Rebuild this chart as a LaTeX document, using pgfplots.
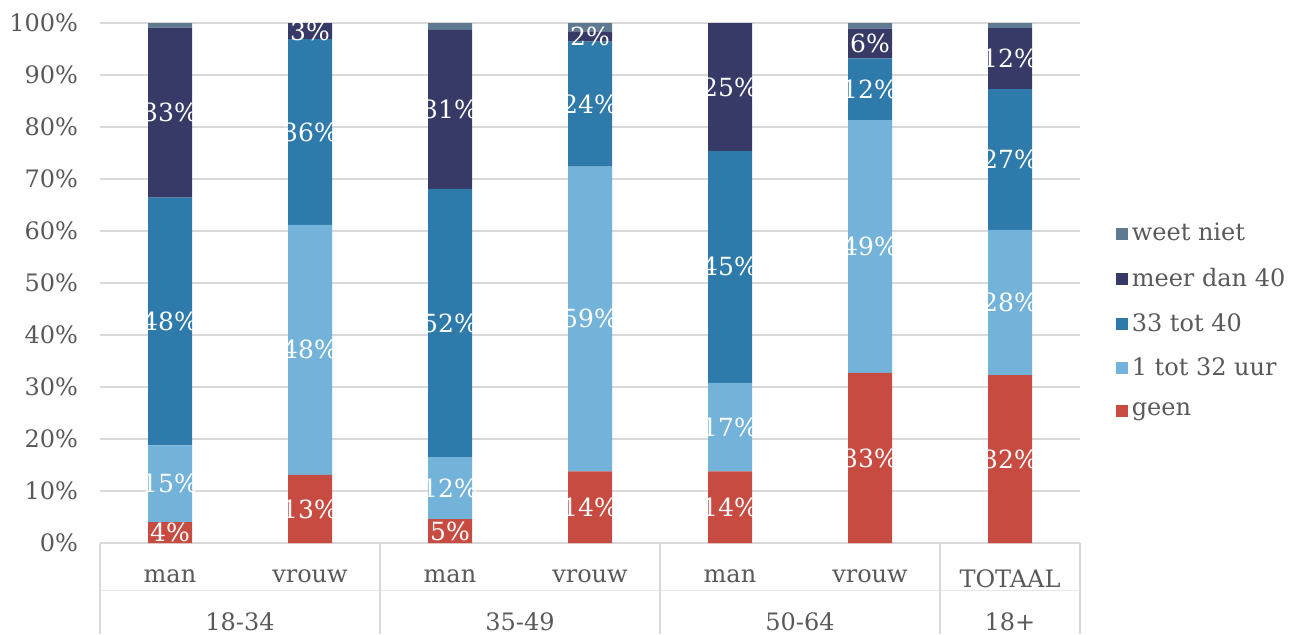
\documentclass[border=0pt]{standalone}
\usepackage{fontspec}
\setmainfont{DejaVu Serif}
\usepackage{pgfplots}
\usepackage{pgfplotstable}
\pgfplotsset{compat=1.18}
\definecolor{cgeen}{HTML}{C84B41}
\definecolor{cuur}{HTML}{74B3D9}
\definecolor{cctf}{HTML}{2E7AAB}
\definecolor{cmeer}{HTML}{373A66}
\definecolor{cweet}{HTML}{5E7A91}
\definecolor{ctext}{HTML}{595959}
\definecolor{cgrid}{HTML}{D9D9D9}
\pgfplotstableread{
x geen uur ctf meer weet
0 4.0 14.8 47.6 32.7 0.9
1 13.1 48.1 35.7 3.1 0.0
2 4.6 11.9 51.6 30.6 1.3
3 13.8 58.6 24.0 2.0 1.6
4 13.8 17.0 44.6 24.6 0.0
5 32.7 48.6 11.9 5.7 1.1
6 32.3 27.9 27.1 11.7 1.0
}\datatable
\pgfplotsset{
  lbl/.style={
    nodes near coords={\pgfmathprintnumber[fixed,precision=0]{\pgfplotspointmeta}\%},
    point meta=\thisrow{#1},
    every node near coord/.append style={anchor=center, text=white, font=\fontsize{12.5}{14}\selectfont},
  }
}
\begin{document}
\begin{tikzpicture}
\begin{axis}[
  name=ax, at={(0,0)}, anchor=south west,
  scale only axis, width=490pt, height=260pt,
  ybar stacked, bar width=22pt,
  xmin=-0.5, xmax=6.5, ymin=0, ymax=100,
  xtick={0,...,6},
  xticklabels={man,vrouw,man,vrouw,man,vrouw,TOTAAL},
  ytick={0,10,...,100},
  yticklabel={\pgfmathprintnumber{\tick}\%},
  /pgf/number format/assume math mode=true,
  major tick length=0pt,
  axis line style={draw=none},
  ymajorgrids, grid style={cgrid, line width=0.8pt},
  ticklabel style={text=ctext, font=\fontsize{12}{14}\selectfont},
  yticklabel style={xshift=-7.5pt},
  xticklabel style={yshift=-10pt},
  clip=false,
  legend cell align=left,
  reverse legend,
  legend style={draw=none, fill=none, at={(1.03,0.427)}, anchor=west,
    font=\fontsize{12}{14}\selectfont, text=ctext, row sep=8pt,
    /tikz/every even column/.append style={column sep=2pt}},
  legend image code/.code={\fill[#1] (0pt,-3pt) rectangle (6pt,3pt);},
]
\addplot[fill=cgeen, draw=none, lbl=geen] table[x=x, y=geen] {\datatable};
\addplot[fill=cuur, draw=none, lbl=uur] table[x=x, y=uur] {\datatable};
\addplot[fill=cctf, draw=none, lbl=ctf] table[x=x, y=ctf] {\datatable};
\addplot[fill=cmeer, draw=none, lbl=meer] table[x=x, y=meer] {\datatable};
\addplot[fill=cweet, draw=none] table[x=x, y=weet] {\datatable};
\legend{geen,1 tot 32 uur,33 tot 40,meer dan 40,weet niet}
\draw[cgrid, line width=0.8pt] (axis cs:-0.5,0) -- ([yshift=-45.5pt]axis cs:-0.5,0);
\draw[cgrid, line width=0.8pt] (axis cs:1.5,0) -- ([yshift=-45.5pt]axis cs:1.5,0);
\draw[cgrid, line width=0.8pt] (axis cs:3.5,0) -- ([yshift=-45.5pt]axis cs:3.5,0);
\draw[cgrid, line width=0.8pt] (axis cs:5.5,0) -- ([yshift=-45.5pt]axis cs:5.5,0);
\draw[cgrid, line width=0.8pt] (axis cs:6.5,0) -- ([yshift=-45.5pt]axis cs:6.5,0);
\draw[cgrid!60, line width=0.5pt] ([yshift=-23.5pt]axis cs:-0.5,0) -- ([yshift=-23.5pt]axis cs:6.5,0);
\node[text=ctext, font=\fontsize{12}{14}\selectfont] at ([yshift=-39.5pt]axis cs:0.5,0) {18-34};
\node[text=ctext, font=\fontsize{12}{14}\selectfont] at ([yshift=-39.5pt]axis cs:2.5,0) {35-49};
\node[text=ctext, font=\fontsize{12}{14}\selectfont] at ([yshift=-39.5pt]axis cs:4.5,0) {50-64};
\node[text=ctext, font=\fontsize{12}{14}\selectfont] at ([yshift=-39.5pt]axis cs:6,0) {18+};
\end{axis}
\pgfresetboundingbox
\path (-50pt,-45.5pt) rectangle (597.5pt,271.5pt);
\end{tikzpicture}
\end{document}
